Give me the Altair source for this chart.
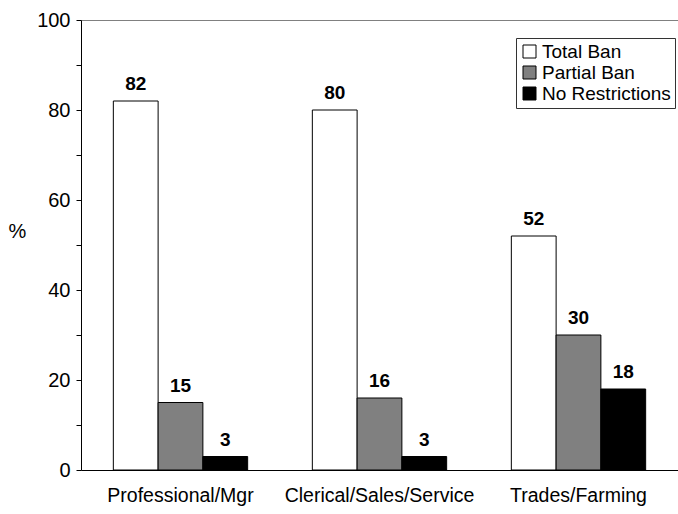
import altair as alt
import pandas as pd

# Smoking restrictions at work, by occupation group (%)
categories = ["Professional/Mgr", "Clerical/Sales/Service", "Trades/Farming"]
series = ["Total Ban", "Partial Ban", "No Restrictions"]
total_ban = [82, 80, 52]
partial_ban = [15, 16, 30]
no_restrictions = [3, 3, 18]
y_ticks = [0, 10, 20, 30, 40, 50, 60, 70, 80, 90, 100]
fills = ["white", "#808080", "black"]

rows = []
for i, cat in enumerate(categories):
    for name, vals in zip(series, [total_ban, partial_ban, no_restrictions]):
        rows.append({"category": cat, "series": name, "value": vals[i]})
df = pd.DataFrame(rows)

FONT = "Liberation Sans"

base = alt.Chart(df).encode(
    x=alt.X(
        "category:N",
        sort=categories,
        scale=alt.Scale(paddingInner=0.325, paddingOuter=0.1625),
        axis=alt.Axis(
            title=None,
            labelAngle=0,
            ticks=False,
            domainColor="black",
            labelPadding=16,
            labelFontSize=19.5,
            labelColor="black",
            labelFont=FONT,
            labelLimit=0,
        ),
    ),
    xOffset=alt.XOffset(
        "series:N", sort=series, scale=alt.Scale(paddingInner=0, paddingOuter=0)
    ),
    y=alt.Y(
        "value:Q",
        scale=alt.Scale(domain=[0, 100], nice=False),
        axis=alt.Axis(
            title="%",
            titleAngle=0,
            titleAlign="center",
            titleBaseline="middle",
            titleX=-64,
            titleY=211,
            titleFontWeight="normal",
            titleFontSize=20,
            titleFont=FONT,
            titleColor="black",
            values=y_ticks,
            labelExpr="datum.value % 20 == 0 ? datum.label : ''",
            labelFontSize=20,
            labelFont=FONT,
            labelColor="black",
            labelPadding=6,
            tickSize=5,
            tickColor="black",
            domainColor="black",
            grid=True,
            gridColor="#808080",
            gridOpacity=alt.condition("datum.value == 100", alt.value(1), alt.value(0)),
        ),
    ),
)

bars = base.mark_bar(stroke="black", strokeWidth=1).encode(
    color=alt.Color(
        "series:N",
        sort=series,
        scale=alt.Scale(domain=series, range=fills),
        legend=alt.Legend(
            title=None,
            orient="none",
            legendX=435,
            legendY=18,
            strokeColor="#333333",
            fillColor="white",
            padding=4,
            rowPadding=1,
            symbolType="square",
            symbolSize=169,
            symbolStrokeColor="black",
            symbolStrokeWidth=1,
            labelFontSize=19,
            labelFont=FONT,
            labelColor="black",
            labelOffset=3,
            labelLimit=0,
        ),
    )
)

labels = base.mark_text(
    dy=-11, baseline="alphabetic", fontWeight="bold", fontSize=19, font=FONT, color="black"
).encode(text="value:Q")

chart = (
    alt.layer(bars, labels)
    .properties(
        width=597,
        height=450,
        padding={"left": 81, "top": 20, "right": 0, "bottom": 44},
        autosize=alt.AutoSizeParams(type="none"),
    )
    .configure_view(stroke=None)
    .configure(font=FONT, background="white")
)

chart.save("out.html", embed_options={"renderer": "svg", "actions": False})
